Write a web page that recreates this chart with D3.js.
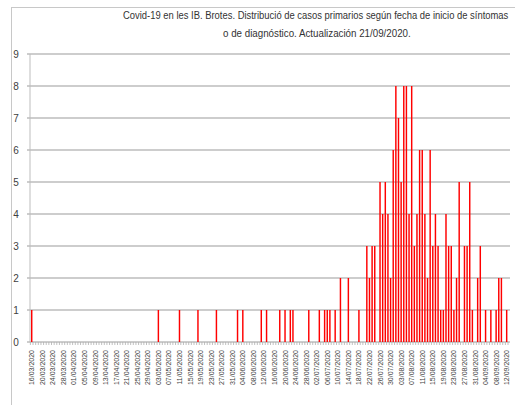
<!DOCTYPE html>
<html>
<head>
<meta charset="utf-8">
<script src="https://cdn.jsdelivr.net/npm/d3@7"></script>
<style>
  body { margin: 0; background: #fff; }
  text { font-family: "Liberation Sans", Arial, sans-serif; fill: #404040; }
</style>
</head>
<body>
<div id="chart"></div>
<script>
// casos por día desde el 16/03/2020 hasta el 12/09/2020
const casos = [
  1,0,0,0,0,0,0,0,0,0, 0,0,0,0,0,0,0,0,0,0,
  0,0,0,0,0,0,0,0,0,0, 0,0,0,0,0,0,0,0,0,0,
  0,0,0,0,0,0,0,0,1,0, 0,0,0,0,0,0,1,0,0,0,
  0,0,0,1,0,0,0,0,0,0, 1,0,0,0,0,0,0,0,1,0,
  1,0,0,0,0,0,0,1,0,1, 0,0,0,0,1,0,1,0,1,1,
  0,0,0,0,0,1,0,0,0,1, 0,1,1,1,0,1,0,2,0,0,
  2,0,0,0,1,0,0,3,2,3, 3,0,5,4,5,4,2,6,8,7,
  5,8,8,4,8,3,4,6,6,4, 2,6,3,4,3,1,1,4,3,3,
  1,2,5,0,3,3,5,1,0,2, 3,0,1,0,1,0,1,2,2,0,
  1
];

const fechaInicio = new Date(2020, 2, 16);
const dias = casos.map((_, i) => d3.timeDay.offset(fechaInicio, i));

// una etiqueta cada 4 días
const etiquetasX = [
  "16/03/2020","20/03/2020","24/03/2020","28/03/2020","01/04/2020","05/04/2020",
  "09/04/2020","13/04/2020","17/04/2020","21/04/2020","25/04/2020","29/04/2020",
  "03/05/2020","07/05/2020","11/05/2020","15/05/2020","19/05/2020","23/05/2020",
  "27/05/2020","31/05/2020","04/06/2020","08/06/2020","12/06/2020","16/06/2020",
  "20/06/2020","24/06/2020","28/06/2020","02/07/2020","06/07/2020","10/07/2020",
  "14/07/2020","18/07/2020","22/07/2020","26/07/2020","30/07/2020","03/08/2020",
  "07/08/2020","11/08/2020","15/08/2020","19/08/2020","23/08/2020","27/08/2020",
  "31/08/2020","04/09/2020","08/09/2020","12/09/2020"
];
const ticksY = [0,1,2,3,4,5,6,7,8,9];

const titulo = [
  "Covid-19 en les IB. Brotes. Distribució de casos primarios según fecha de inicio de síntomas",
  "o de diagnóstico. Actualización 21/09/2020."
];

const width = 515, height = 405;
const svg = d3.select("#chart").append("svg")
    .attr("width", width)
    .attr("height", height);

// marco del gráfico
svg.append("rect")
    .attr("x", 11.5).attr("y", 7.5)
    .attr("width", 600).attr("height", 500)
    .attr("fill", "none")
    .attr("stroke", "#c8c8c8");

const x = d3.scaleBand()
    .domain(d3.range(casos.length))
    .range([30.4, 508])
    .paddingInner(0.45)
    .paddingOuter(0.225);

const y = d3.scaleLinear().domain([0, 9]).range([342, 54]);

// líneas de la cuadrícula
svg.append("g")
    .selectAll("line")
    .data(ticksY)
    .enter().append("line")
    .attr("x1", 27).attr("x2", 510)
    .attr("y1", d => y(d)).attr("y2", d => y(d))
    .attr("stroke", "#bdbdbd")
    .attr("stroke-width", 1.5);

svg.append("line")
    .attr("x1", 30).attr("x2", 30)
    .attr("y1", y(9)).attr("y2", y(0))
    .attr("stroke", "#bdbdbd");

svg.append("g")
    .selectAll("text")
    .data(ticksY)
    .enter().append("text")
    .attr("x", 16)
    .attr("y", d => y(d) + 3.5)
    .attr("text-anchor", "middle")
    .attr("font-size", "10px")
    .text(d => d);

// marcas diarias del eje x
const paso = x.step();
svg.append("g")
    .selectAll("line")
    .data(d3.range(casos.length + 1))
    .enter().append("line")
    .attr("x1", i => 30.4 + i * paso).attr("x2", i => 30.4 + i * paso)
    .attr("y1", y(0)).attr("y2", y(0) + 3)
    .attr("stroke", "#b0b0b0")
    .attr("stroke-width", 0.8);

// barras
svg.append("g")
    .selectAll("rect")
    .data(casos.map((v, i) => ({ i, v })).filter(d => d.v > 0))
    .enter().append("rect")
    .attr("x", d => x(d.i))
    .attr("width", x.bandwidth())
    .attr("y", d => y(d.v))
    .attr("height", d => y(0) - y(d.v))
    .attr("fill", "#ff0000");

// etiquetas del eje x
svg.append("g")
    .selectAll("text")
    .data(etiquetasX)
    .enter().append("text")
    .attr("transform", (d, k) => {
        const cx = x(k * 4) + x.bandwidth() / 2 + 2.5;
        return `translate(${cx},350) rotate(-90)`;
    })
    .attr("text-anchor", "end")
    .attr("font-family", "DejaVu Sans")
    .attr("font-size", "7px")
    .text(d => d);

// título (estrechado horizontalmente para que quepa como en el original)
const lineasTitulo = [
    { texto: titulo[0], x0: 123, y0: 19, ancho: 386 },
    { texto: titulo[1], x0: 223, y0: 37, ancho: 188 }
];
lineasTitulo.forEach(l => {
    const t = svg.append("text")
        .attr("font-size", "11.5px")
        .style("fill", "#333")
        .text(l.texto);
    const natural = t.node().getComputedTextLength();
    t.attr("transform", `translate(${l.x0},${l.y0}) scale(${l.ancho / natural},1)`);
});
</script>
</body>
</html>
